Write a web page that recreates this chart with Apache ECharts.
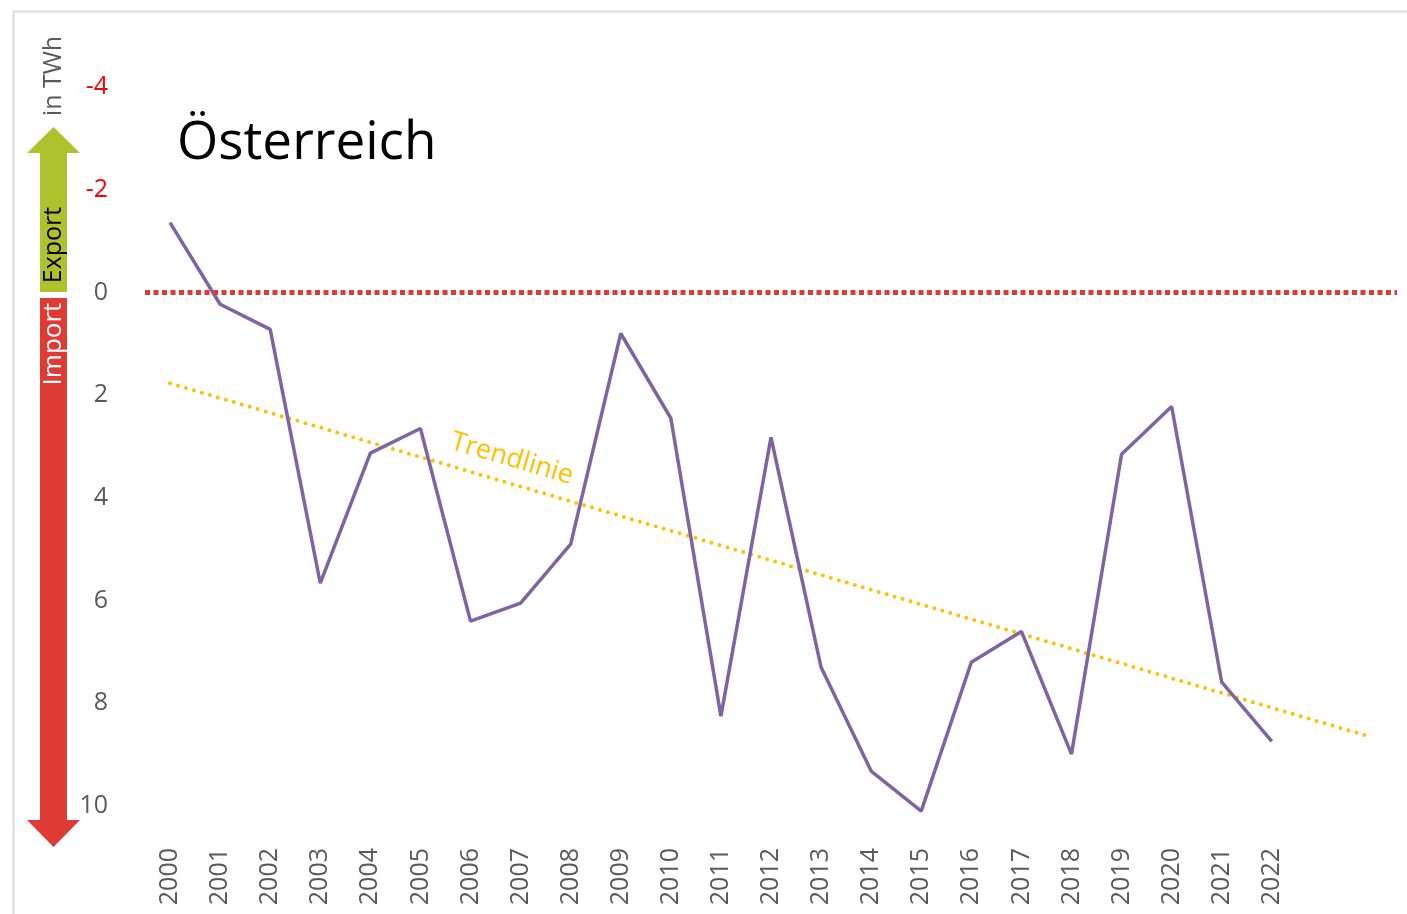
<!DOCTYPE html>
<html><head><meta charset="utf-8">
<script src="https://cdn.jsdelivr.net/npm/echarts@6/dist/echarts.min.js"></script>
<style>html,body{margin:0;padding:0;background:#fff}#c{width:1407px;height:914px}</style>
</head><body><div id="c"></div>
<script>
const years = ['2000','2001','2002','2003','2004','2005','2006','2007','2008','2009','2010','2011','2012','2013','2014','2015','2016','2017','2018','2019','2020','2021','2022','',''];
const netImport = [-1.36,0.23,0.72,5.66,3.13,2.65,6.40,6.05,4.90,0.80,2.45,8.25,2.82,7.30,9.32,10.1,7.20,6.60,8.99,3.15,2.22,7.59,8.74];
const trendStart = 1.77;
const trendEnd = 8.66;
const yTicks = [-4,-2,0,2,4,6,8,10];

const F = '"Open Sans", "Noto Sans", sans-serif';
const chart = echarts.init(document.getElementById('c'));
chart.setOption({
  animation:false,
  backgroundColor:'#fff',
  grid:{left:145,right:10,top:87,bottom:108,containLabel:false},
  xAxis:{type:'category',data:years,boundaryGap:true,
    axisLine:{show:false},axisTick:{show:false},
    axisLabel:{rotate:90,interval:0,margin:42,color:'#595959',fontSize:25,fontFamily:F}},
  yAxis:{type:'value',inverse:true,min:-4,max:10,interval:2,splitLine:{show:false},
    axisLine:{show:false},axisTick:{show:false},
    axisLabel:{margin:37,fontSize:25,fontFamily:F,
      color:function(v){return v<0?'#FF0000':'#595959';}}},
  series:[
    {type:'line',data:netImport,symbol:'none',clip:false,lineStyle:{color:'#8064A2',width:3.5},z:3,
     markLine:{silent:true,symbol:'none',label:{show:false},
       lineStyle:{color:'#DE3B34',width:5,type:[5,3.5]},data:[{yAxis:0}]}},
    {type:'line',data:[[0,trendStart],[24,trendEnd]],symbol:'none',z:2,
     lineStyle:{color:'#FFC000',width:4,type:[0,8.3],cap:'round'}}
  ]
});
const p1 = chart.convertToPixel({gridIndex:0},[0,trendStart]);
const p2 = chart.convertToPixel({gridIndex:0},[24,trendEnd]);
const ang = Math.atan2(p2[1]-p1[1], p2[0]-p1[0]);
chart.setOption({graphic:[
  {type:'rect',left:11,top:9,shape:{width:1420,height:930},style:{fill:'none',stroke:'#D9D9D9',lineWidth:2},silent:true},
  {type:'text',left:177,top:117,style:{text:'Österreich',font:'53px '+F,fill:'#000'}},
  {type:'polygon',shape:{points:[[40,292],[40,153],[27,153],[53.5,127],[80,153],[67,153],[67,292]]},style:{fill:'#AEC22E'}},
  {type:'polygon',shape:{points:[[40,298],[40,820],[27,820],[53.5,847],[80,820],[67,820],[67,298]]},style:{fill:'#DE3B34'}},
  {type:'text',x:53.5,y:245,rotation:Math.PI/2,style:{text:'Export',font:'25px '+F,fill:'#000',align:'center',verticalAlign:'middle'}},
  {type:'text',x:53.5,y:344,rotation:Math.PI/2,style:{text:'Import',font:'26px '+F,fill:'#fff',align:'center',verticalAlign:'middle'}},
  {type:'text',x:54,y:76,rotation:Math.PI/2,style:{text:'in TWh',font:'25px '+F,fill:'#595959',align:'center',verticalAlign:'middle'}},
  {type:'text',x:512,y:459,rotation:-ang,style:{text:'Trendlinie',font:'27px '+F,fill:'#FFC000',align:'center',verticalAlign:'middle'}}
]});
</script></body></html>
